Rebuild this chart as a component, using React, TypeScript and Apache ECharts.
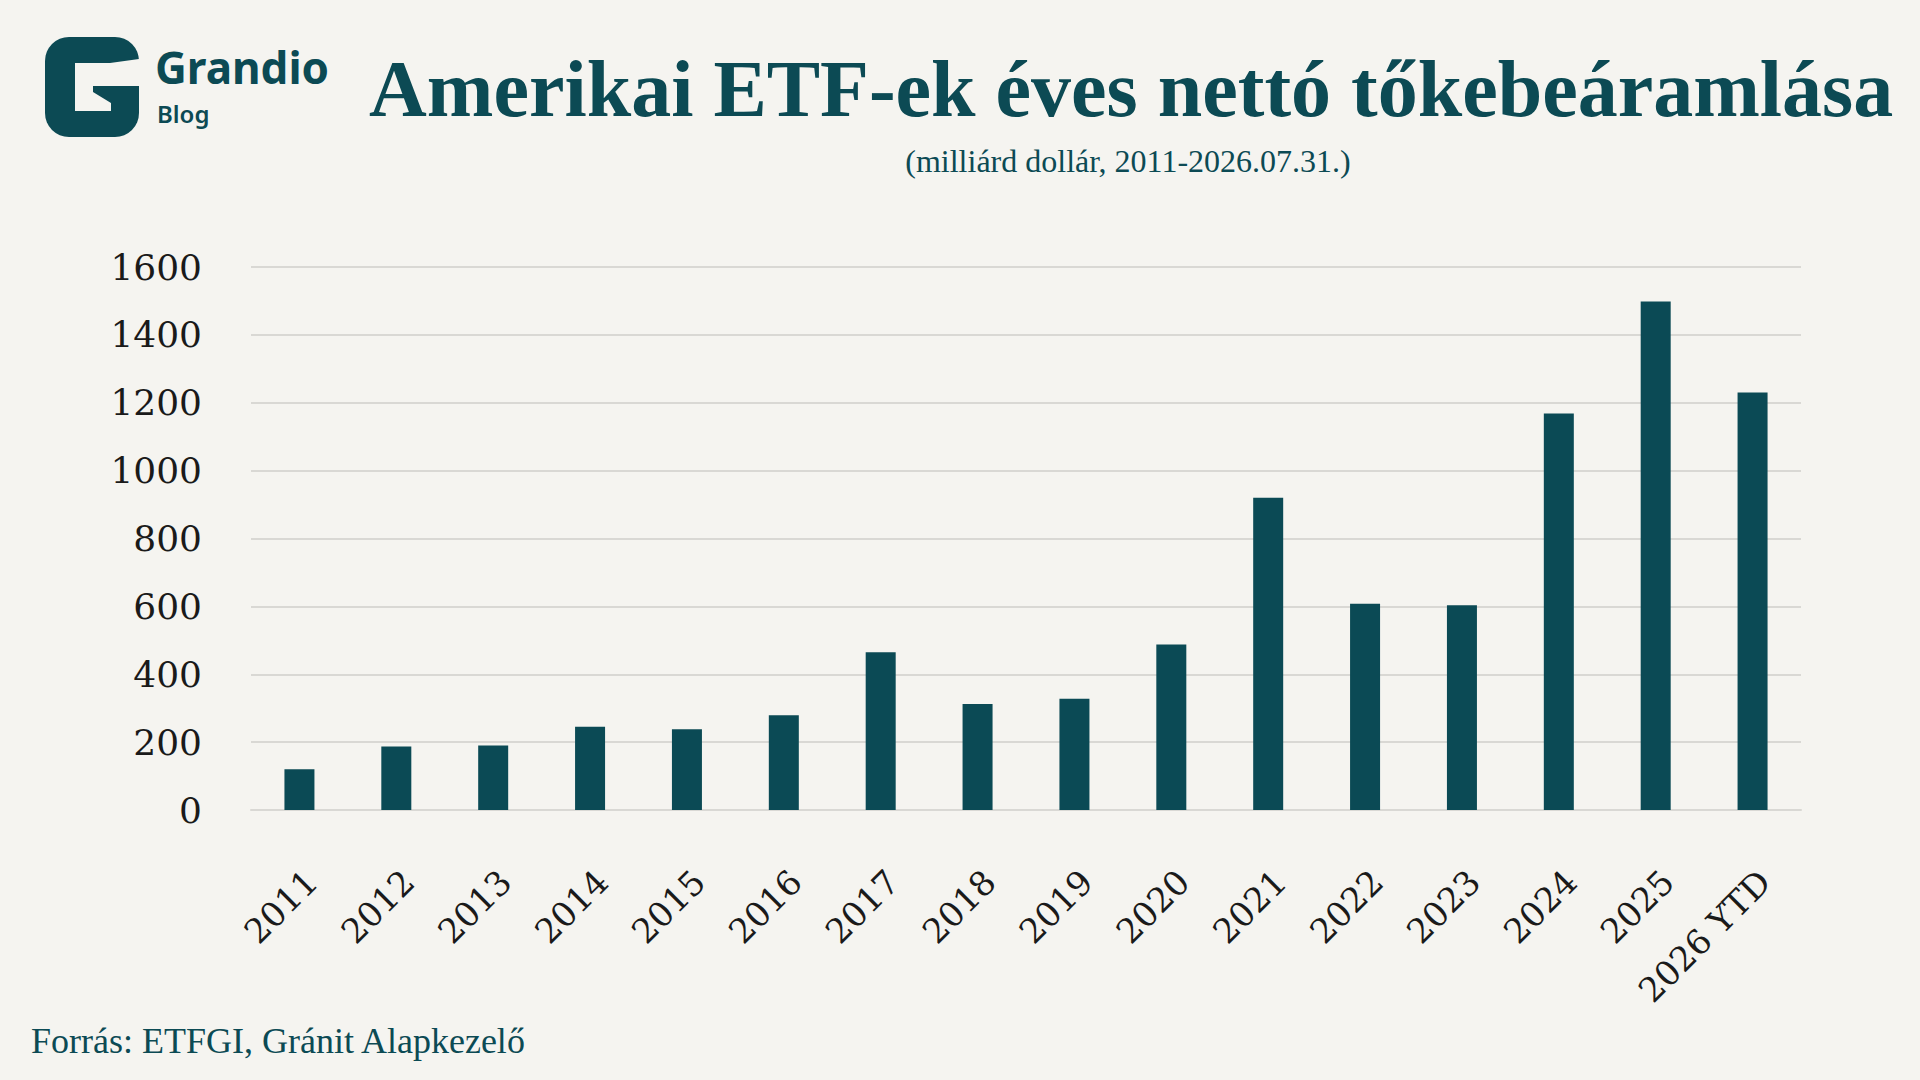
import { useEffect, useRef } from "react";
import * as echarts from "echarts";

const years = [
  "2011", "2012", "2013", "2014", "2015", "2016", "2017", "2018",
  "2019", "2020", "2021", "2022", "2023", "2024", "2025", "2026 YTD",
];
const netInflows = [
  120, 187, 190, 245, 238, 279, 465, 312, 328, 488, 920, 608, 603, 1168, 1498, 1230,
];
const yTicks = [0, 200, 400, 600, 800, 1000, 1200, 1400, 1600];

const TEAL = "#0c4a54";
const BG = "#f5f4f0";

function App() {
  const chartRef = useRef(null);

  useEffect(() => {
    document.body.style.margin = "0";
    document.body.style.background = BG;
    const chart = echarts.init(chartRef.current, null, { renderer: "svg" });

    const option = {
      animation: false,
      backgroundColor: BG,
      grid: { left: 251, right: 119, top: 267, bottom: 270, containLabel: false },
      xAxis: {
        type: "category",
        data: years,
        axisTick: { show: false },
        axisLine: { lineStyle: { color: "#d9d8d4", width: 2 } },
        axisLabel: {
          interval: 0,
          rotate: 45,
          margin: 54,
          verticalAlign: "top",
          color: "#1a1a1a",
          fontFamily: "'DejaVu Serif'",
          fontSize: 34,
        },
      },
      yAxis: {
        type: "value",
        min: yTicks[0],
        max: yTicks[yTicks.length - 1],
        interval: 200,
        axisLine: { show: false },
        axisTick: { show: false },
        splitLine: { lineStyle: { color: "#d9d8d4", width: 2 } },
        axisLabel: {
          margin: 49,
          color: "#1a1a1a",
          fontFamily: "'DejaVu Serif'",
          fontSize: 36,
          formatter: (v: number) => String(v),
        },
      },
      series: [
        {
          type: "bar",
          data: netInflows,
          barWidth: 30,
          itemStyle: { color: "#0b4a55" },
        },
      ],
      graphic: [
        {
          type: "rect",
          shape: { x: 45, y: 37, width: 94, height: 100, r: 24 },
          style: { fill: TEAL },
        },
        {
          type: "polygon",
          shape: {
            points: [
              [75, 63], [110, 63], [139, 59], [139, 86], [93, 86],
              [93, 92], [111, 103], [111, 111], [75, 111],
            ],
          },
          style: { fill: BG },
        },
        {
          type: "text",
          x: 155,
          y: 67,
          style: {
            text: "Grandio",
            fill: TEAL,
            fontFamily: "'Noto Sans'",
            fontWeight: "bold",
            fontSize: 44,
            lineHeight: 36,
            verticalAlign: "middle",
          },
        },
        {
          type: "text",
          x: 157,
          y: 113,
          style: {
            text: "Blog",
            fill: TEAL,
            fontFamily: "'Noto Sans'",
            fontWeight: 600,
            fontSize: 24,
            lineHeight: 22,
            verticalAlign: "middle",
          },
        },
        {
          type: "text",
          x: 369,
          y: 89,
          style: {
            text: "Amerikai ETF-ek éves nettó tőkebeáramlása",
            fill: TEAL,
            fontFamily: "'Liberation Serif'",
            fontWeight: "bold",
            fontSize: 80,
            verticalAlign: "middle",
          },
        },
        {
          type: "text",
          x: 1128,
          y: 161,
          style: {
            text: "(milliárd dollár, 2011-2026.07.31.)",
            fill: TEAL,
            fontFamily: "'Liberation Serif'",
            fontSize: 32,
            align: "center",
            verticalAlign: "middle",
          },
        },
        {
          type: "text",
          x: 31,
          y: 1041,
          style: {
            text: "Forrás: ETFGI, Gránit Alapkezelő",
            fill: TEAL,
            fontFamily: "'Liberation Serif'",
            fontSize: 36,
            verticalAlign: "middle",
          },
        },
      ],
    };

    chart.setOption(option);

    return () => {
      chart.dispose();
    };
  }, []);

  return <div ref={chartRef} style={{ width: "1920px", height: "1080px" }} />;
}

export default App;
